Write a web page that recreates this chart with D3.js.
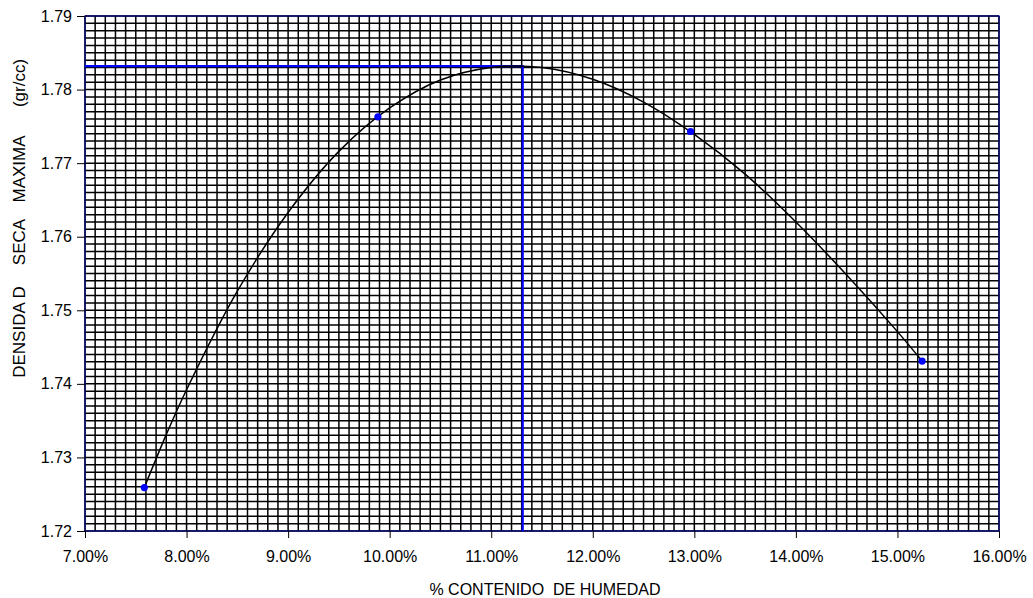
<!DOCTYPE html>
<html lang="es">
<head>
<meta charset="UTF-8">
<title>Proctor</title>
<script src="https://cdn.jsdelivr.net/npm/d3@7"></script>
<style>
  body { margin: 0; background: #fff; }
  svg text { font-family: "Liberation Sans", Arial, sans-serif; fill: #000; }
</style>
</head>
<body>
<svg id="chart" width="1033" height="598"></svg>
<script>
// ensayo: humedad (%) vs densidad seca
var humedad = [7.584, 9.884, 12.963, 15.243];
var densidad = [1.7259, 1.7763, 1.7743, 1.7431];

// linea de tendencia
var trendX = [7.584, 7.8, 8.0, 8.5, 9.0, 9.5, 10.0, 10.5, 11.0, 11.5, 12.0, 12.5, 13.0, 13.5, 14.0, 14.5, 15.0, 15.243];
var trendY = [1.7259, 1.7331, 1.7392, 1.7526, 1.7633, 1.7716, 1.7775, 1.7813, 1.7830, 1.7830, 1.7814, 1.7783, 1.7739, 1.7685, 1.7620, 1.7548, 1.7471, 1.7431];

// humedad optima / densidad maxima
var optHumedad = 11.31;
var maxDensidad = 1.7832;

var xTicks = [7, 8, 9, 10, 11, 12, 13, 14, 15, 16];
var yTicks = [1.72, 1.73, 1.74, 1.75, 1.76, 1.77, 1.78, 1.79];

// palabras del titulo vertical
var yTitle = ["(gr/cc)", "MAXIMA", "SECA", "DENSIDA D"];
var yTitlePos = [83, 169, 242, 332];

var svg = d3.select("#chart"),
    margin = { top: 16, right: 34, bottom: 67, left: 85 },
    width = +svg.attr("width") - margin.left - margin.right,
    height = +svg.attr("height") - margin.top - margin.bottom,
    g = svg.append("g").attr("transform", "translate(" + margin.left + "," + margin.top + ")");

var x = d3.scaleLinear().domain([7, 16]).range([0, width]);
var y = d3.scaleLinear().domain([1.72, 1.79]).range([height, 0]);

// cuadricula fina
var gridX = d3.range(0, 91).map(function (i) { return 7 + i / 10; });
var gridY = d3.range(0, 71).map(function (i) { return 1.72 + i / 1000; });

g.append("g").selectAll("line")
    .data(gridX)
    .enter().append("line")
    .attr("x1", function (d) { return x(d); })
    .attr("x2", function (d) { return x(d); })
    .attr("y1", 0)
    .attr("y2", height)
    .attr("stroke", "#000")
    .attr("stroke-width", 1.5);

g.append("g").selectAll("line")
    .data(gridY)
    .enter().append("line")
    .attr("x1", 0)
    .attr("x2", width)
    .attr("y1", function (d) { return y(d); })
    .attr("y2", function (d) { return y(d); })
    .attr("stroke", "#000")
    .attr("stroke-width", 1.5);

// borde del area
g.append("rect")
    .attr("width", width)
    .attr("height", height)
    .attr("fill", "none")
    .attr("stroke", "#000080")
    .attr("stroke-width", 1.2);

// ejes
var xAxis = d3.axisBottom(x).tickValues(xTicks).tickSize(7).tickPadding(13)
    .tickFormat(function (d) { return d3.format(".2f")(d) + "%"; });
var yAxis = d3.axisLeft(y).tickValues(yTicks).tickSize(8).tickPadding(5)
    .tickFormat(d3.format(".2f"));

var gx = g.append("g")
    .attr("transform", "translate(0," + height + ")")
    .call(xAxis);
var gy = g.append("g").call(yAxis);

[gx, gy].forEach(function (a) {
    a.select(".domain").remove();
    a.selectAll("text").attr("font-size", 16).attr("font-family", "Liberation Sans, Arial, sans-serif");
    a.selectAll("line").attr("stroke", "#000");
});

// lineas de densidad maxima
g.append("path")
    .attr("d", "M0," + y(maxDensidad) + "H" + x(optHumedad) + "V" + height)
    .attr("fill", "none")
    .attr("stroke", "#0000ff")
    .attr("stroke-width", 2.2);

// curva
var line = d3.line()
    .x(function (d) { return x(d[0]); })
    .y(function (d) { return y(d[1]); })
    .curve(d3.curveCatmullRom);

g.append("path")
    .datum(d3.zip(trendX, trendY))
    .attr("fill", "none")
    .attr("stroke", "#000")
    .attr("stroke-width", 1.5)
    .attr("d", line);

g.selectAll(".punto")
    .data(d3.zip(humedad, densidad))
    .enter().append("circle")
    .attr("class", "punto")
    .attr("r", 3.6)
    .attr("cx", function (d) { return x(d[0]); })
    .attr("cy", function (d) { return y(d[1]); })
    .attr("fill", "#0000ff");

// titulos
svg.append("text")
    .attr("x", 545)
    .attr("y", 595)
    .attr("text-anchor", "middle")
    .attr("font-size", 16)
    .attr("xml:space", "preserve")
    .style("white-space", "pre")
    .text("% CONTENIDO  DE HUMEDAD");

svg.selectAll(".ytitle")
    .data(yTitle)
    .enter().append("text")
    .attr("class", "ytitle")
    .attr("transform", function (d, i) { return "translate(25," + yTitlePos[i] + ") rotate(-90)"; })
    .attr("text-anchor", "middle")
    .attr("font-size", 17)
    .text(function (d) { return d; });
</script>
</body>
</html>
